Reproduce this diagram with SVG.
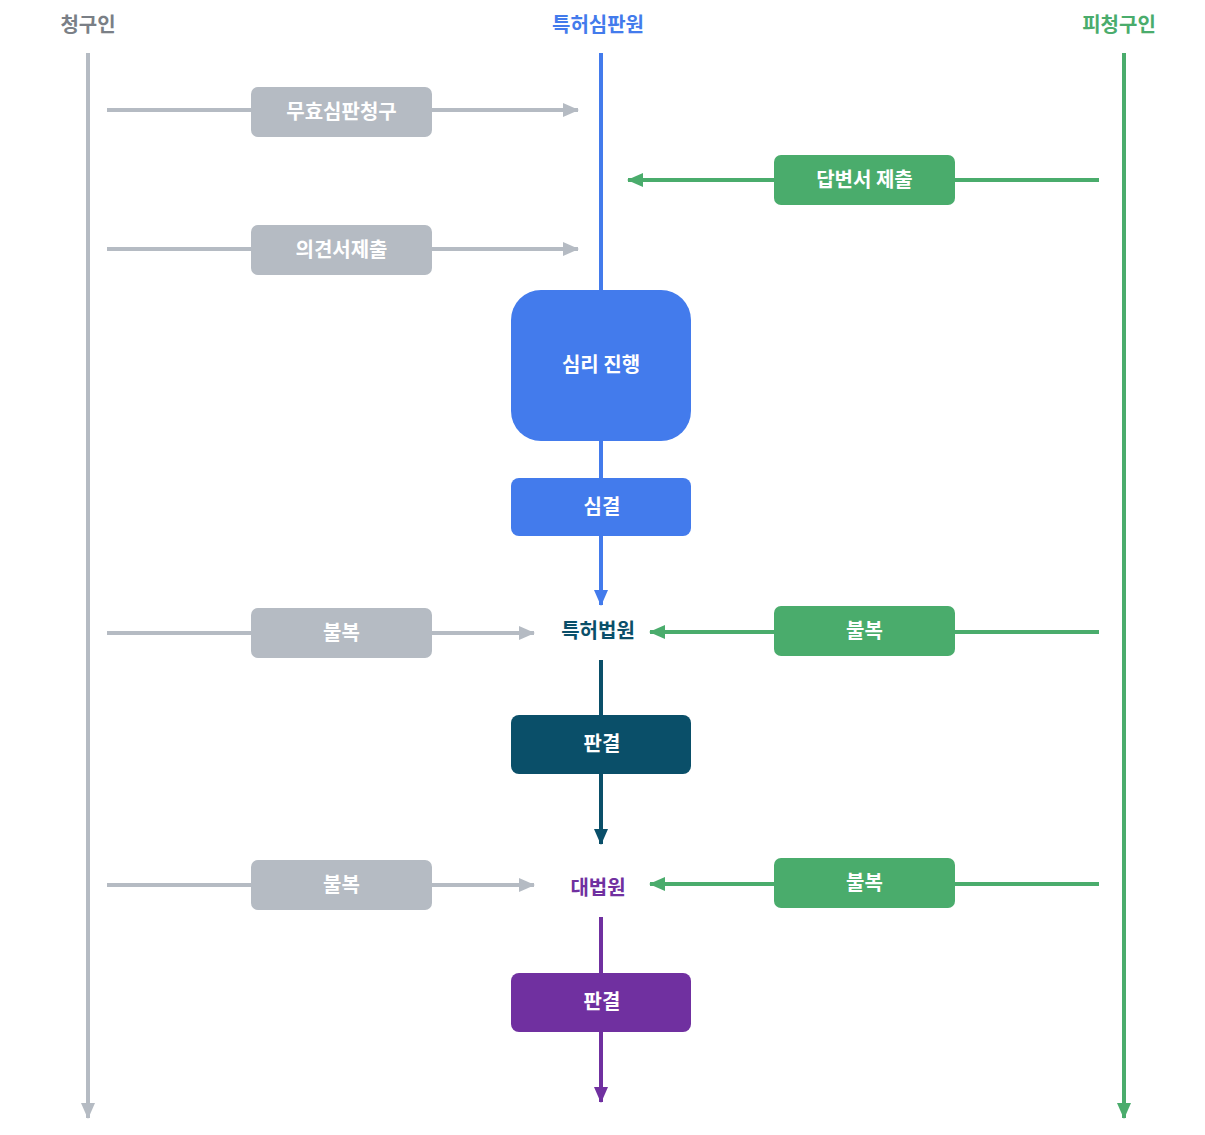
<svg xmlns="http://www.w3.org/2000/svg" width="1205" height="1135" viewBox="0 0 1205 1135">
<style>
text{font-family:"Noto Sans CJK KR","Noto Sans",sans-serif;font-weight:700;text-anchor:middle;dominant-baseline:central}
.hd{font-size:20px}
.lb{font-size:20px;fill:#fff}
.ln{fill:none;stroke-width:4}
.g{stroke:#b5bbc3}.gr{stroke:#4aac6c}.bl{stroke:#437bec}.tl{stroke:#0a4f69}.pu{stroke:#7030a0}
</style>
<defs>
<marker id="ag" markerWidth="16" markerHeight="14" refX="15" refY="7" orient="auto" markerUnits="userSpaceOnUse"><path d="M0,0L16,7L0,14Z" fill="#b5bbc3"/></marker>
<marker id="agr" markerWidth="16" markerHeight="14" refX="15" refY="7" orient="auto" markerUnits="userSpaceOnUse"><path d="M0,0L16,7L0,14Z" fill="#4aac6c"/></marker>
<marker id="abl" markerWidth="16" markerHeight="14" refX="15" refY="7" orient="auto" markerUnits="userSpaceOnUse"><path d="M0,0L16,7L0,14Z" fill="#437bec"/></marker>
<marker id="atl" markerWidth="16" markerHeight="14" refX="15" refY="7" orient="auto" markerUnits="userSpaceOnUse"><path d="M0,0L16,7L0,14Z" fill="#0a4f69"/></marker>
<marker id="apu" markerWidth="16" markerHeight="14" refX="15" refY="7" orient="auto" markerUnits="userSpaceOnUse"><path d="M0,0L16,7L0,14Z" fill="#7030a0"/></marker>
</defs>
<rect width="1205" height="1135" fill="#fff"/>
<g id="connectors">
<line class="ln g" x1="88" y1="53" x2="88" y2="1118" marker-end="url(#ag)"/>
<line class="ln gr" x1="1124" y1="53" x2="1124" y2="1118" marker-end="url(#agr)"/>
<line class="ln bl" x1="601" y1="53" x2="601" y2="292"/>
<line class="ln bl" x1="601" y1="440" x2="601" y2="480"/>
<line class="ln bl" x1="601" y1="535" x2="601" y2="605" marker-end="url(#abl)"/>
<line class="ln tl" x1="601" y1="660" x2="601" y2="717"/>
<line class="ln tl" x1="601" y1="773" x2="601" y2="844" marker-end="url(#atl)"/>
<line class="ln pu" x1="601" y1="917" x2="601" y2="975"/>
<line class="ln pu" x1="601" y1="1031" x2="601" y2="1102" marker-end="url(#apu)"/>
<line class="ln g" x1="107" y1="110" x2="578" y2="110" marker-end="url(#ag)"/>
<line class="ln g" x1="107" y1="249" x2="578" y2="249" marker-end="url(#ag)"/>
<line class="ln g" x1="107" y1="633" x2="534" y2="633" marker-end="url(#ag)"/>
<line class="ln g" x1="107" y1="885" x2="534" y2="885" marker-end="url(#ag)"/>
<line class="ln gr" x1="1099" y1="180" x2="628" y2="180" marker-end="url(#agr)"/>
<line class="ln gr" x1="1099" y1="632" x2="650" y2="632" marker-end="url(#agr)"/>
<line class="ln gr" x1="1099" y1="884" x2="650" y2="884" marker-end="url(#agr)"/>
</g>
<g id="h-claimant"><text class="hd" x="88" y="23" fill="#7a7f86">청구인</text></g>
<g id="h-tribunal"><text class="hd" x="598" y="23" fill="#437bec">특허심판원</text></g>
<g id="h-respondent"><text class="hd" x="1119" y="23" fill="#4aac6c">피청구인</text></g>
<g id="n1"><rect x="251" y="87" width="181" height="50" rx="7" fill="#b5bbc3"/><text class="lb" x="341.5" y="110">무효심판청구</text></g>
<g id="n2"><rect x="774" y="155" width="181" height="50" rx="7" fill="#4aac6c"/><text class="lb" x="864.5" y="178">답변서 제출</text></g>
<g id="n3"><rect x="251" y="225" width="181" height="50" rx="7" fill="#b5bbc3"/><text class="lb" x="341.5" y="248">의견서제출</text></g>
<g id="n4"><rect x="511" y="290" width="180" height="151" rx="30" fill="#437bec"/><text class="lb" x="601" y="363">심리 진행</text></g>
<g id="n5"><rect x="511" y="478" width="180" height="58" rx="8" fill="#437bec"/><text class="lb" x="602" y="505">심결</text></g>
<g id="n6"><text x="598" y="629" font-size="20" fill="#0a4f69">특허법원</text></g>
<g id="n7"><rect x="251" y="608" width="181" height="50" rx="7" fill="#b5bbc3"/><text class="lb" x="341.5" y="631">불복</text></g>
<g id="n8"><rect x="774" y="606" width="181" height="50" rx="7" fill="#4aac6c"/><text class="lb" x="864.5" y="629">불복</text></g>
<g id="n9"><rect x="511" y="715" width="180" height="59" rx="8" fill="#0a4f69"/><text class="lb" x="602" y="742">판결</text></g>
<g id="n10"><text x="598" y="886" font-size="20" fill="#7030a0">대법원</text></g>
<g id="n11"><rect x="251" y="860" width="181" height="50" rx="7" fill="#b5bbc3"/><text class="lb" x="341.5" y="883">불복</text></g>
<g id="n12"><rect x="774" y="858" width="181" height="50" rx="7" fill="#4aac6c"/><text class="lb" x="864.5" y="881">불복</text></g>
<g id="n13"><rect x="511" y="973" width="180" height="59" rx="8" fill="#7030a0"/><text class="lb" x="602" y="1000">판결</text></g>
</svg>
